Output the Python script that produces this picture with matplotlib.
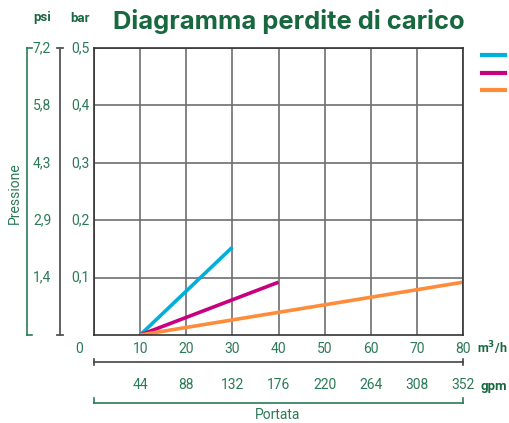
import numpy as np
import matplotlib.pyplot as plt
from matplotlib.lines import Line2D

# flow rate (m3/h) and pressure drop (bar) end points of each curve
portata_cyan = [10, 30]
perdita_cyan = [0.0, 0.153]
portata_magenta = [10, 40]
perdita_magenta = [0.0, 0.092]
portata_orange = [10, 80]
perdita_orange = [0.0, 0.092]

x_ticks = [0, 10, 20, 30, 40, 50, 60, 70, 80]
gpm_labels = ['44', '88', '132', '176', '220', '264', '308', '352']
bar_ticks = [0.1, 0.2, 0.3, 0.4, 0.5]
bar_labels = ['0,1', '0,2', '0,3', '0,4', '0,5']
psi_labels = ['1,4', '2,9', '4,3', '5,8', '7,2']

GREEN = '#2b7a57'
TITLE_GREEN = '#17683f'
W, H = 509, 423
narrow = ['Liberation Sans Narrow', 'Roboto', 'DejaVu Sans']

fig = plt.figure(figsize=(W / 100, H / 100), dpi=100)


def fx(px):
    return px / W


def fy(py):
    return 1 - py / H


def line(xs, ys, color, lw=1.2):
    fig.add_artist(Line2D([fx(x) for x in xs], [fy(y) for y in ys],
                          color=color, lw=lw, transform=fig.transFigure))


left, right, top, bottom = 94, 463, 48, 335
ax = fig.add_axes([fx(left), fy(bottom), fx(right - left), (bottom - top) / H])
ax.set_xlim(0, 80)
ax.set_ylim(0, 0.5)
ax.set_xticks(x_ticks)
ax.set_yticks(bar_ticks)
ax.grid(True, color='#6e6e6e', lw=1.2)
ax.tick_params(length=0, labelleft=False, labelbottom=False)
for s in ax.spines.values():
    s.set_color('#333333')
    s.set_linewidth(1.2)

ax.plot(portata_cyan, perdita_cyan, color='#00b0d8', lw=2.6, solid_capstyle='butt')
ax.plot(portata_magenta, perdita_magenta, color='#c8007e', lw=2.6, solid_capstyle='butt')
ax.plot(portata_orange, perdita_orange, color='#ff8c3a', lw=2.6, solid_capstyle='butt')

# title
fig.text(fx(289), fy(22), 'Diagramma perdite di carico', color=TITLE_GREEN,
         fontsize=18.4, fontweight='bold', family=['Inter', 'Roboto'],
         ha='center', va='center')

# y axis labels: bar and psi
fig.text(fx(80), fy(18), 'bar', color=TITLE_GREEN, fontsize=9.5, fontweight='bold',
         family=narrow, ha='center', va='center')
fig.text(fx(42), fy(18), 'psi', color=TITLE_GREEN, fontsize=9.5, fontweight='bold',
         family=narrow, ha='center', va='center')
for v, b, p in zip(bar_ticks, bar_labels, psi_labels):
    py = bottom - (bottom - top) * v / 0.5
    fig.text(fx(80), fy(py), b, color=GREEN, fontsize=10, family=narrow,
             ha='center', va='center')
    fig.text(fx(42), fy(py), p, color=GREEN, fontsize=10, family=narrow,
             ha='center', va='center')

# divider between the two pressure scales
line([60, 60], [top, bottom], '#555555', 1.3)
line([57, 63], [top, top], '#555555', 1.3)
line([57, 63], [bottom, bottom], '#555555', 1.3)

# pressure bracket
line([27, 27], [top, bottom], GREEN, 1.2)
line([27, 32], [top, top], GREEN, 1.2)
line([27, 32], [bottom, bottom], GREEN, 1.2)
fig.text(fx(15), fy(193), 'Pressione', color=GREEN, fontsize=10, family=narrow,
         rotation=90, ha='center', va='center')

# x axis labels: m3/h and gpm
for v in x_ticks:
    px = 79 if v == 0 else left + (right - left) * v / 80
    fig.text(fx(px), fy(349), str(v), color=GREEN, fontsize=10, family=narrow,
             ha='center', va='center')
fig.text(fx(507), fy(348), 'm$^\\mathbf{3}$/h', color=TITLE_GREEN, fontsize=9,
         fontweight='bold', family=narrow, ha='right', va='center')
for v, g in zip(x_ticks[1:], gpm_labels):
    px = left + (right - left) * v / 80
    fig.text(fx(px), fy(385), g, color=GREEN, fontsize=10, family=narrow,
             ha='center', va='center')
fig.text(fx(507), fy(386), 'gpm', color=TITLE_GREEN, fontsize=9.5, fontweight='bold',
         family=narrow, ha='right', va='center')

line([left, right], [362, 362], '#444444', 1.2)
line([left, left], [359, 365], '#444444', 1.2)
line([right, right], [359, 365], '#444444', 1.2)

# flow bracket
line([left, right], [403, 403], GREEN, 1.2)
line([left, left], [398, 403], GREEN, 1.2)
line([right, right], [398, 403], GREEN, 1.2)
fig.text(fx(278), fy(415), 'Portata', color=GREEN, fontsize=10, family=narrow,
         ha='center', va='center')

# legend swatches
line([482, 505], [55, 55], '#00b0d8', 3)
line([482, 505], [73, 73], '#c8007e', 3)
line([482, 505], [90, 90], '#ff8c3a', 3)

fig.savefig('out.png', dpi=100)
